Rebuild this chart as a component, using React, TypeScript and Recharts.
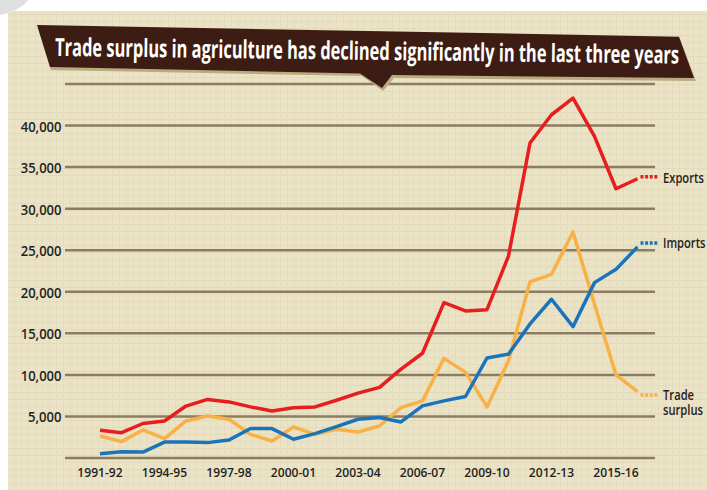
import React, { useLayoutEffect, useRef, useState } from 'react';
import { LineChart, Line, XAxis, YAxis, CartesianGrid, LabelList } from 'recharts';

// Fiscal years covered by the series
const years = [
  '1991-92', '1992-93', '1993-94', '1994-95', '1995-96', '1996-97', '1997-98',
  '1998-99', '1999-00', '2000-01', '2001-02', '2002-03', '2003-04', '2004-05',
  '2005-06', '2006-07', '2007-08', '2008-09', '2009-10', '2010-11', '2011-12',
  '2012-13', '2013-14', '2014-15', '2015-16', '2016-17',
];

// Agricultural exports, imports and trade surplus
const exportsValues = [
  3350, 3050, 4150, 4450, 6250, 7050, 6750, 6150, 5650, 6050, 6150, 6950, 7800,
  8500, 10700, 12600, 18700, 17700, 17850, 24300, 37900, 41300, 43300, 38700,
  32400, 33600,
];
const importsValues = [
  520, 760, 710, 1920, 1920, 1850, 2160, 3540, 3540, 2250, 2930, 3780, 4660,
  4870, 4340, 6270, 6870, 7400, 12030, 12500, 16130, 19100, 15800, 21100,
  22700, 25400,
];
const surplusValues = [
  2650, 1970, 3370, 2330, 4460, 5060, 4660, 2850, 2040, 3730, 2850, 3450, 3130,
  3850, 6070, 6870, 11990, 10300, 6150, 11700, 21200, 22100, 27200, 18500,
  10000, 8000,
];

const yTicks = [5000, 10000, 15000, 20000, 25000, 30000, 35000, 40000];

const TITLE = 'Trade surplus in agriculture has declined significantly in the last three years';

const data = years.map((year, i) => ({
  year,
  exports: exportsValues[i],
  imports: importsValues[i],
  surplus: surplusValues[i],
}));

const RED = '#e61e1e';
const BLUE = '#1b74ba';
const ORANGE = '#f7b146';
const INK = '#231f20';
const FONT = '"Open Sans", "DejaVu Sans", sans-serif';

const XTick = (props: any) => {
  const { x, y, payload } = props;
  return (
    <text
      transform={`translate(${x},${y + 19}) scale(0.93,1)`}
      textAnchor="middle"
      fontFamily={FONT}
      fontWeight={600}
      fontSize={13}
      fill={INK}
    >
      {payload.value}
    </text>
  );
};

const YTick = (props: any) => {
  const { x, y, payload } = props;
  return (
    <text
      transform={`translate(${x - 3.5},${y + 6}) scale(0.9,1)`}
      textAnchor="end"
      fontFamily={FONT}
      fontWeight={600}
      fontSize={14.5}
      fill={INK}
    >
      {Number(payload.value).toLocaleString('en-US')}
    </text>
  );
};

// Dotted tail plus series name at the final point of a line
const endLabel = (color: string, lines: string[], dashDy: number, textDy: number) => (props: any) => {
  const { x, y, index } = props;
  if (index !== years.length - 1) return null;
  return (
    <g>
      <line
        x1={x + 3}
        y1={y + dashDy}
        x2={x + 20}
        y2={y + dashDy}
        stroke={color}
        strokeWidth={3.5}
        strokeDasharray="3 1.6"
      />
      <text
        transform={`translate(${x + 25.5},${y + textDy}) scale(0.8,1)`}
        fontFamily={FONT}
        fontWeight={600}
        fontSize={14}
        fill={INK}
      >
        {lines.map((t, k) => (
          <tspan key={k} x={0} y={k * 15}>
            {t}
          </tspan>
        ))}
      </text>
    </g>
  );
};

// Condensed white headline, squeezed horizontally to the banner width
const Headline = () => {
  const ref = useRef<SVGTextElement>(null);
  const [sx, setSx] = useState(0.6);
  useLayoutEffect(() => {
    if (ref.current) {
      const len = ref.current.getComputedTextLength();
      if (len > 0) setSx(624 / len);
    }
  }, []);
  return (
    <text
      ref={ref}
      transform={`rotate(0.7 55 56) translate(55,56) scale(${sx},1)`}
      fontFamily={FONT}
      fontWeight={700}
      fontSize={25}
      fill="#ffffff"
    >
      {TITLE}
    </text>
  );
};

export default function App() {
  return (
    <div style={{ position: 'absolute', left: 0, top: 0, width: 707, height: 490, background: '#ffffff', overflow: 'hidden' }}>
      <svg width={707} height={490} style={{ position: 'absolute', left: 0, top: 0 }}>
        <defs>
          <pattern id="paper" width={7} height={7} patternUnits="userSpaceOnUse">
            <rect width={7} height={7} fill="#ebe3c6" />
            <line x1={0} y1={0.5} x2={7} y2={0.5} stroke="#e3dabb" strokeWidth={1} />
            <line x1={0.5} y1={0} x2={0.5} y2={7} stroke="#e5dcbe" strokeWidth={1} />
          </pattern>
        </defs>
        <circle cx={-5} cy={-30} r={45} fill="#e0e0e0" />
        <rect x={8} y={11} width={699} height={479} fill="url(#paper)" />
      </svg>

      <div style={{ position: 'absolute', left: 0, top: 0 }}>
        <LineChart width={707} height={490} data={data} margin={{ top: 84, right: 52, bottom: 2, left: 0 }}>
          <CartesianGrid vertical={false} stroke="#8c7c62" strokeWidth={2.5} />
          <XAxis
            dataKey="year"
            interval={2}
            axisLine={false}
            tickLine={false}
            tickSize={0}
            tickMargin={0}
            height={30}
            padding={{ left: 35, right: 17.5 }}
            tick={<XTick />}
          />
          <YAxis
            domain={[0, 45000]}
            ticks={yTicks}
            axisLine={false}
            tickLine={false}
            tickSize={0}
            tickMargin={0}
            width={65}
            tick={<YTick />}
          />
          <Line
            type="linear"
            dataKey="surplus"
            stroke={ORANGE}
            strokeWidth={3.5}
            strokeLinejoin="round"
            dot={false}
            isAnimationActive={false}
          >
            <LabelList dataKey="surplus" content={endLabel(ORANGE, ['Trade', 'surplus'], 3.5, 8.5)} />
          </Line>
          <Line
            type="linear"
            dataKey="imports"
            stroke={BLUE}
            strokeWidth={3.5}
            strokeLinejoin="round"
            dot={false}
            isAnimationActive={false}
          >
            <LabelList dataKey="imports" content={endLabel(BLUE, ['Imports'], -4, 1.5)} />
          </Line>
          <Line
            type="linear"
            dataKey="exports"
            stroke={RED}
            strokeWidth={3.5}
            strokeLinejoin="round"
            dot={false}
            isAnimationActive={false}
          >
            <LabelList dataKey="exports" content={endLabel(RED, ['Exports'], -2, 4)} />
          </Line>
        </LineChart>
      </div>

      <svg width={707} height={490} style={{ position: 'absolute', left: 0, top: 0, pointerEvents: 'none' }}>
        {/* banner shadow */}
        <polygon
          points="38,28 680,39 696,81 394,78 383,91 362,76 51,70"
          fill="#b9ab7f"
        />
        {/* banner */}
        <polygon
          points="37,25 679,36.7 694,78 392,75 382,88 360,73.5 50,67"
          fill="#3d1d13"
        />
        <Headline />
      </svg>
    </div>
  );
}
